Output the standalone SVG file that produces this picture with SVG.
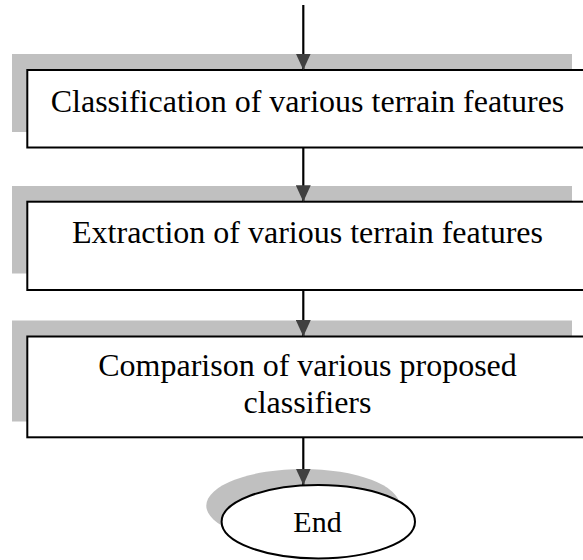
<svg xmlns="http://www.w3.org/2000/svg" width="583" height="560" viewBox="0 0 583 560">
  <style>
    .shadow { fill: #c0c0c0; stroke: none; }
    .box { fill: #ffffff; stroke: #000000; stroke-width: 2; }
    .label { font-family: "Liberation Serif", "Times New Roman", serif; font-size: 32px; fill: #000000; text-anchor: middle; }
    .link { stroke: #000000; stroke-width: 2.2; fill: none; marker-end: url(#head); }
  </style>
  <defs>
    <!-- filled arrowhead, drawn along +x so orient="auto" follows the line -->
    <marker id="head" markerUnits="userSpaceOnUse" markerWidth="17" markerHeight="15" refX="16.5" refY="7.5" orient="auto" viewBox="0 0 17 15">
      <path d="M0,0 L16.5,7.5 L0,15 Z" fill="#404040"/>
    </marker>
  </defs>

  <!-- process: classification -->
  <g id="classification">
    <rect class="shadow" x="12" y="54" width="560" height="78"/>
    <rect class="box" x="27.3" y="70" width="560" height="77.5"/>
    <text class="label" x="307.5" y="111.7">Classification of various terrain features</text>
  </g>

  <!-- process: extraction -->
  <g id="extraction">
    <rect class="shadow" x="12" y="186" width="560" height="87.5"/>
    <rect class="box" x="27.3" y="201.7" width="560" height="88.3"/>
    <text class="label" x="307.5" y="243.3">Extraction of various terrain features</text>
  </g>

  <!-- process: comparison -->
  <g id="comparison">
    <rect class="shadow" x="12" y="320.5" width="560" height="101"/>
    <rect class="box" x="27.3" y="336.5" width="560" height="100.8"/>
    <text class="label" x="307.5" y="376">Comparison of various proposed</text>
    <text class="label" x="307.5" y="413">classifiers</text>
  </g>

  <!-- terminator: end -->
  <g id="end">
    <ellipse class="shadow" cx="303" cy="505.7" rx="96.7" ry="36.7"/>
    <ellipse class="box" cx="318.3" cy="521.7" rx="96.7" ry="36.7"/>
    <text class="label" x="317.5" y="531.7" style="font-size:30px">End</text>
  </g>

  <!-- connectors -->
  <g id="connectors">
    <line class="link" x1="303.3" y1="5" x2="303.3" y2="70"/>
    <line class="link" x1="303.3" y1="147.5" x2="303.3" y2="201.7"/>
    <line class="link" x1="303.3" y1="290" x2="303.3" y2="336.5"/>
    <line class="link" x1="303.3" y1="437.3" x2="303.3" y2="485"/>
  </g>
</svg>
